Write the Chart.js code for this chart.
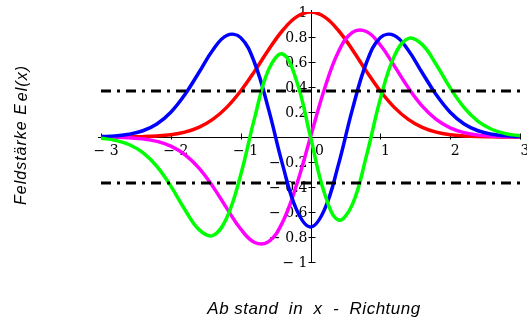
<!DOCTYPE html>
<html>
<head>
<meta charset="utf-8">
<script src="https://cdn.jsdelivr.net/npm/chart.js@4.4.0/dist/chart.umd.min.js"></script>
<style>
  body { margin: 0; background: #fff; }
  #wrap { width: 527px; height: 320px; }
</style>
</head>
<body>
<div id="wrap"><canvas id="feldChart" width="527" height="320"></canvas></div>
<script>
// Abstand x (Stützstellen)
const xWerte = [-3, -2.8, -2.6, -2.4, -2.2, -2, -1.8, -1.6, -1.4, -1.2, -1, -0.8, -0.6, -0.4, -0.2, 0,
                0.2, 0.4, 0.6, 0.8, 1, 1.2, 1.4, 1.6, 1.8, 2, 2.2, 2.4, 2.6, 2.8, 3];

// Feldstärken der vier Moden
const modeRot = [0, 0, 0.001, 0.003, 0.008, 0.018, 0.039, 0.077, 0.141, 0.237, 0.368, 0.527, 0.698, 0.852, 0.961, 1,
                 0.961, 0.852, 0.698, 0.527, 0.368, 0.237, 0.141, 0.077, 0.039, 0.018, 0.008, 0.003, 0.001, 0, 0];
const modeMagenta = [-0.001, -0.002, -0.006, -0.015, -0.035, -0.073, -0.141, -0.247, -0.395, -0.569, -0.736, -0.844, -0.837, -0.682, -0.384, 0,
                     0.384, 0.682, 0.837, 0.844, 0.736, 0.569, 0.395, 0.247, 0.141, 0.073, 0.035, 0.015, 0.006, 0.002, 0.001];
const modeBlau = [0.003, 0.009, 0.022, 0.050, 0.104, 0.198, 0.338, 0.514, 0.694, 0.812, 0.795, 0.592, 0.221, -0.221, -0.581, -0.720,
                  -0.581, -0.221, 0.221, 0.592, 0.795, 0.812, 0.694, 0.514, 0.338, 0.198, 0.104, 0.050, 0.022, 0.009, 0.003];
const modeGruen = [-0.010, -0.026, -0.060, -0.125, -0.235, -0.393, -0.580, -0.739, -0.788, -0.647, -0.304, 0.153, 0.539, 0.664, 0.450, 0,
                   -0.450, -0.664, -0.539, -0.153, 0.304, 0.647, 0.788, 0.739, 0.580, 0.393, 0.235, 0.125, 0.060, 0.026, 0.010];

// 1/e-Pegel
const pegel = 0.368;

const xTicks = [-3, -2, -1, 0, 1, 2, 3];
const xTickLabels = ['\u2212 3', '\u2212 2', '\u2212 1', '0', '1', '2', '3'];
const yTicks = [1, 0.8, 0.6, 0.4, 0.2, -0.2, -0.4, -0.6, -0.8, -1];
const yTickLabels = ['1', '0.8', '0.6', '0.4', '0.2', '\u2212 0.2', '\u2212 0.4', '\u2212 0.6', '\u2212 0.8', '\u2212 1'];

const punkte = werte => xWerte.map((x, i) => ({ x: x, y: werte[i] }));
const kurve = (werte, farbe, order) => ({
  data: punkte(werte),
  borderColor: farbe,
  borderWidth: 3.5,
  pointRadius: 0,
  tension: 0.4,
  fill: false,
  order: order
});
const pegelLinie = wert => ({
  data: [{ x: -3, y: wert }, { x: 3, y: wert }],
  borderColor: '#000',
  borderWidth: 3,
  borderDash: [10, 6, 3, 6],
  pointRadius: 0,
  fill: false,
  order: -1
});

// Achsen durch den Nullpunkt, Beschriftung und Achsentitel
const achsenPlugin = {
  id: 'achsen',
  beforeDatasetsDraw(chart) {
    const { ctx, scales: { x, y } } = chart;
    const x0 = Math.round(x.getPixelForValue(0)) + 0.5;
    const y0 = Math.round(y.getPixelForValue(0)) + 0.5;
    ctx.save();
    ctx.strokeStyle = '#000';
    ctx.lineWidth = 1;
    ctx.beginPath();
    ctx.moveTo(x.getPixelForValue(-3) - 3, y0);
    ctx.lineTo(x.getPixelForValue(3), y0);
    ctx.moveTo(x0, y.getPixelForValue(1) - 2);
    ctx.lineTo(x0, y.getPixelForValue(-1));
    xTicks.forEach(v => {
      const px = Math.round(x.getPixelForValue(v)) + 0.5;
      ctx.moveTo(px, y0 - 4);
      ctx.lineTo(px, y0 + 2);
    });
    yTicks.forEach(v => {
      const py = Math.round(y.getPixelForValue(v)) + 0.5;
      ctx.moveTo(x0 - 3, py);
      ctx.lineTo(x0 + 4, py);
    });
    ctx.stroke();

    ctx.fillStyle = '#000';
    ctx.font = '14px "DejaVu Serif"';
    ctx.textBaseline = 'middle';
    ctx.textAlign = 'center';
    xTicks.forEach((v, i) => {
      ctx.fillText(xTickLabels[i], x.getPixelForValue(v) + (v === 0 ? 9 : 5), y0 + 14);
    });
    ctx.textAlign = 'right';
    yTicks.forEach((v, i) => {
      ctx.fillText(yTickLabels[i], x0 - 4, y.getPixelForValue(v) + 1);
    });

    // Achsentitel
    ctx.font = 'italic 17px "Liberation Sans"';
    ctx.textAlign = 'center';
    ctx.letterSpacing = '0.5px';
    ctx.fillText('Ab stand  in  x  -  Richtung', 314, 309);

    ctx.font = 'italic 16px "Liberation Sans"';
    ctx.letterSpacing = '1px';
    ctx.translate(22, 135);
    ctx.rotate(-Math.PI / 2);
    const teil1 = 'Feldst\u00e4rke E';
    const teil2 = 'el(x)';
    const w1 = ctx.measureText(teil1).width;
    const w2 = ctx.measureText(teil2).width;
    const start = -(w1 + w2 + 2) / 2;
    ctx.textAlign = 'left';
    ctx.fillText(teil1, start, 0);
    ctx.fillText(teil2, start + w1 + 2, 1);
    ctx.restore();
  }
};

new Chart(document.getElementById('feldChart'), {
  type: 'line',
  data: {
    datasets: [
      pegelLinie(pegel),
      pegelLinie(-pegel),
      kurve(modeRot, '#ff0000', 4),
      kurve(modeMagenta, '#ff00ff', 3),
      kurve(modeBlau, '#0000ff', 2),
      kurve(modeGruen, '#00ff00', 1)
    ]
  },
  options: {
    responsive: false,
    animation: false,
    layout: { padding: { left: 101, right: 7, top: 12, bottom: 58 } },
    plugins: { legend: { display: false }, tooltip: { enabled: false } },
    scales: {
      x: { type: 'linear', min: -3, max: 3, display: false },
      y: { type: 'linear', min: -1, max: 1, display: false }
    }
  },
  plugins: [achsenPlugin]
});
</script>
</body>
</html>
